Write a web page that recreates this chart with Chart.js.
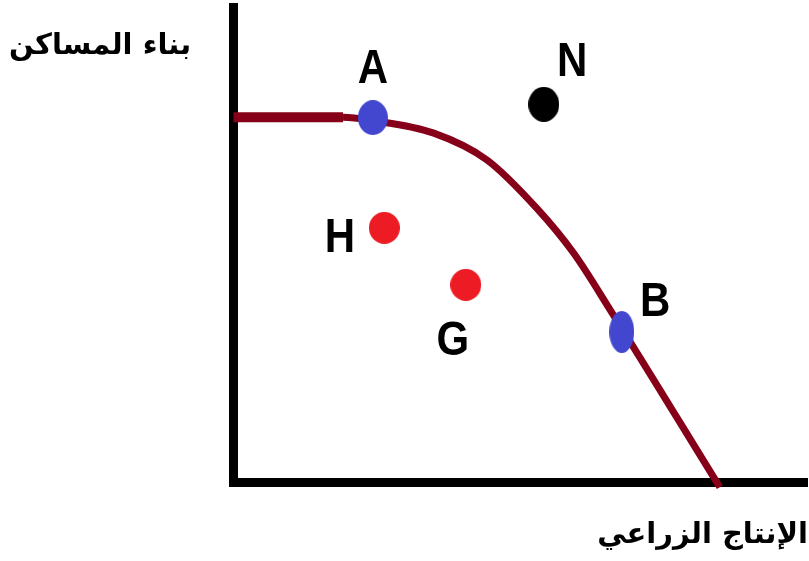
<!DOCTYPE html>
<html>
<head>
<meta charset="utf-8">
<script src="https://cdn.jsdelivr.net/npm/chart.js@4/dist/chart.umd.min.js"></script>
<style>
  html, body { margin: 0; padding: 0; background: #fff; }
  #ppf { display: block; }
</style>
</head>
<body>
<canvas id="ppf" width="809" height="561"></canvas>
<script>
// Axis titles
var yTitle = 'بناء المساكن';
var xTitle = 'الإنتاج الزراعي';

// Frontier curve (agriculture on x, housing on y)
var curveX = [0, 19.1, 24.3, 34.8, 44.2, 52.9, 59.3, 65.7, 84.8];
var curveY = [76.8, 76.8, 76.1, 73.5, 67.8, 57.6, 48.2, 36.2, -1.1];

// Named points
var pointNames = ['A', 'N', 'H', 'G', 'B'];
var pointX = [24.3, 54.1, 26.3, 40.5, 67.7];
var pointY = [76.7, 79.5, 53.5, 41.5, 31.6];

// Styling for each point: colour, ellipse size, label offset
var pointColors = ['#4347cf', '#000000', '#ed1c24', '#ed1c24', '#4347cf'];
var pointSizes = [[30, 35], [31, 35], [31, 32], [31, 32], [25, 42]];
var labelOffsets = [[0, -48], [28.5, -42], [-44.5, 10.5], [-13, 56.5], [33.5, -29]];

// Helper to make an ellipse image for a point style
function ellipse(w, h, color) {
    var c = document.createElement('canvas');
    c.width = w;
    c.height = h;
    var g = c.getContext('2d');
    g.fillStyle = color;
    g.beginPath();
    g.ellipse(w / 2, h / 2, w / 2, h / 2, 0, 0, Math.PI * 2);
    g.fill();
    return c;
}

var pointStyles = pointNames.map(function(n, i) {
    return ellipse(pointSizes[i][0], pointSizes[i][1], pointColors[i]);
});

// Text drawn on top: point letters and axis titles
var textPlugin = {
    id: 'ppfText',
    afterDatasetsDraw: function(chart) {
        var ctx = chart.ctx;
        var meta = chart.getDatasetMeta(0);
        ctx.save();
        ctx.fillStyle = '#000';
        ctx.textAlign = 'center';
        ctx.textBaseline = 'middle';
        ctx.font = 'bold 42px "Liberation Sans", Arial, sans-serif';
        meta.data.forEach(function(el, i) {
            ctx.save();
            ctx.translate(el.x + labelOffsets[i][0], el.y + labelOffsets[i][1]);
            ctx.scale(1, 1.15);
            ctx.fillText(pointNames[i], 0, 0);
            ctx.restore();
        });

        var area = chart.chartArea;
        ctx.font = 'bold 29px "DejaVu Sans", sans-serif';
        ctx.textBaseline = 'alphabetic';
        ctx.textAlign = 'center';
        ctx.fillText(yTitle, 100, 54);
        ctx.textAlign = 'right';
        ctx.fillText(xTitle, area.right + 1, 543);
        ctx.restore();
    }
};

var ctx = document.getElementById('ppf');

var chart = new Chart(ctx, {
    type: 'scatter',
    data: {
        datasets: [{
            label: 'points',
            data: pointNames.map(function(n, i) { return { x: pointX[i], y: pointY[i] }; }),
            pointStyle: pointStyles,
            pointRadius: 16,
            backgroundColor: pointColors,
            borderWidth: 0
        }, {
            label: 'frontier',
            data: curveX.map(function(x, i) { return { x: x, y: curveY[i] }; }),
            showLine: true,
            borderColor: '#850018',
            borderWidth: 7,
            cubicInterpolationMode: 'monotone',
            pointRadius: 0,
            clip: false,
            segment: {
                borderWidth: function(c) { return c.p0DataIndex < 1 ? 10 : 7; }
            }
        }]
    },
    options: {
        responsive: false,
        animation: false,
        layout: { autoPadding: false, padding: { left: 233.5, top: 7, right: 2, bottom: 79 } },
        plugins: {
            legend: { display: false },
            tooltip: { enabled: false }
        },
        scales: {
            x: {
                type: 'linear',
                min: 0,
                max: 100,
                grid: { display: false, drawTicks: false },
                ticks: { display: false },
                border: { display: true, color: '#000', width: 9 }
            },
            y: {
                type: 'linear',
                min: 0,
                max: 100,
                grid: { display: false, drawTicks: false },
                ticks: { display: false },
                border: { display: true, color: '#000', width: 9 }
            }
        }
    },
    plugins: [textPlugin]
});
</script>
</body>
</html>
